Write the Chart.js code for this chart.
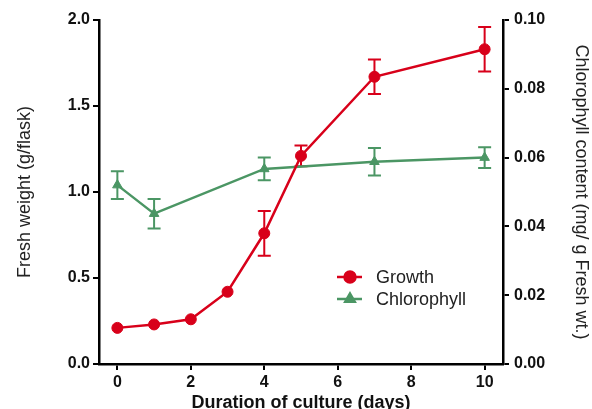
<!DOCTYPE html>
<html>
<head>
<meta charset="utf-8">
<script src="https://cdn.jsdelivr.net/npm/chart.js@4"></script>
<style>
    body { margin: 0; background: #fff; }
    canvas { display: block; }
</style>
</head>
<body>
<canvas id="chart" width="592" height="409"></canvas>
<script>
const days = [0, 1, 2, 3, 4, 5, 7, 10];
const growth = [0.21, 0.23, 0.26, 0.42, 0.76, 1.21, 1.67, 1.83];
const growthErr = [0, 0, 0, 0, 0.13, 0.06, 0.10, 0.13];

const chloroDays = [0, 1, 4, 7, 10];
const chlorophyll = [0.052, 0.0437, 0.0567, 0.0588, 0.060];
const chloroErr = [0.004, 0.0043, 0.0033, 0.004, 0.003];

const xTicks = [0, 2, 4, 6, 8, 10];
const leftTicks = [0, 0.5, 1.0, 1.5, 2.0];
const rightTicks = [0, 0.02, 0.04, 0.06, 0.08, 0.10];

const red = "#d8001a";
const green = "#4b9664";

const tickFont = { family: "Liberation Sans, Arial", size: 16, weight: "bold" };

// error bars behind the markers
const errorBars = {
    id: "errorBars",
    beforeDatasetsDraw(chart) {
        const ctx = chart.ctx;
        const xs = chart.scales.x;
        chart.data.datasets.forEach(ds => {
            const ys = chart.scales[ds.yAxisID];
            ctx.save();
            ctx.strokeStyle = ds.borderColor;
            ctx.lineWidth = 2;
            ds.data.forEach((p, i) => {
                const e = ds.errors[i];
                if (!e) return;
                const px = xs.getPixelForValue(p.x);
                const top = ys.getPixelForValue(p.y + e);
                const bot = ys.getPixelForValue(p.y - e);
                ctx.beginPath();
                ctx.moveTo(px, top); ctx.lineTo(px, bot);
                ctx.moveTo(px - 6.5, top); ctx.lineTo(px + 6.5, top);
                ctx.moveTo(px - 6.5, bot); ctx.lineTo(px + 6.5, bot);
                ctx.stroke();
            });
            ctx.restore();
        });
    }
};

// legend drawn inside the plot
const insideLegend = {
    id: "insideLegend",
    afterDraw(chart) {
        const ctx = chart.ctx;
        const items = [
            { label: "Growth", color: red, style: "circle", y: 277 },
            { label: "Chlorophyll", color: green, style: "triangle", y: 299 }
        ];
        ctx.save();
        items.forEach(it => {
            ctx.strokeStyle = it.color;
            ctx.fillStyle = it.color;
            ctx.lineWidth = 2.5;
            ctx.beginPath();
            ctx.moveTo(337, it.y); ctx.lineTo(362, it.y);
            ctx.stroke();
            Chart.helpers.drawPoint(ctx, { pointStyle: it.style, radius: 5.5, borderWidth: 1 }, 350, it.y);
            ctx.fillStyle = "#222";
            ctx.font = "18px Liberation Sans, Arial";
            ctx.textBaseline = "middle";
            ctx.fillText(it.label, 376, it.y + 1);
        });
        ctx.restore();
    }
};

const axisStyle = {
    grid: { drawOnChartArea: false, drawTicks: true, tickLength: 6, color: "#000", lineWidth: 2 },
    border: { display: true, color: "#000", width: 2.5 }
};

new Chart(document.getElementById("chart"), {
    type: "line",
    data: {
        datasets: [{
            label: "Growth",
            data: days.map((d, i) => ({ x: d, y: growth[i] })),
            errors: growthErr,
            yAxisID: "y",
            borderColor: red,
            backgroundColor: red,
            borderWidth: 2.5,
            pointStyle: "circle",
            pointRadius: 5.5,
            pointBorderWidth: 1
        }, {
            label: "Chlorophyll",
            data: chloroDays.map((d, i) => ({ x: d, y: chlorophyll[i] })),
            errors: chloroErr,
            yAxisID: "y2",
            borderColor: green,
            backgroundColor: green,
            borderWidth: 2.5,
            pointStyle: "triangle",
            pointRadius: 5.5,
            pointBorderWidth: 1
        }]
    },
    options: {
        responsive: false,
        animation: false,
        layout: { padding: { top: 20, left: 0, right: 0, bottom: 0 } },
        plugins: { legend: { display: false }, tooltip: { enabled: false } },
        scales: {
            x: {
                type: "linear",
                min: -0.5,
                max: 10.5,
                ...axisStyle,
                afterBuildTicks: s => { s.ticks = xTicks.map(v => ({ value: v })); },
                afterFit: s => { s.height = 45; },
                ticks: { color: "#111", font: tickFont, padding: 3 },
                title: {
                    display: true,
                    text: "Duration of culture (days)",
                    color: "#111",
                    font: { family: "Liberation Sans, Arial", size: 18, weight: "bold" },
                    padding: { top: 0, bottom: -5 }
                }
            },
            y: {
                position: "left",
                min: 0,
                max: 2.0,
                ...axisStyle,
                afterBuildTicks: s => { s.ticks = leftTicks.map(v => ({ value: v })); },
                afterFit: s => { s.width = 99; },
                ticks: { color: "#111", font: tickFont, padding: 3, callback: v => v.toFixed(1) },
                title: {
                    display: true,
                    text: "Fresh weight (g/flask)",
                    color: "#222",
                    font: { family: "Liberation Sans, Arial", size: 18 },
                    padding: { top: 14 }
                }
            },
            y2: {
                position: "right",
                min: 0,
                max: 0.10,
                ...axisStyle,
                afterBuildTicks: s => { s.ticks = rightTicks.map(v => ({ value: v })); },
                afterFit: s => { s.width = 89; },
                ticks: { color: "#111", font: tickFont, padding: 5, callback: v => v.toFixed(2) },
                title: {
                    display: true,
                    text: "Chlorophyll content (mg/ g Fresh wt.)",
                    color: "#222",
                    font: { family: "Liberation Sans, Arial", size: 18 },
                    padding: { top: 0 }
                }
            }
        }
    },
    plugins: [errorBars, insideLegend]
});
</script>
</body>
</html>
